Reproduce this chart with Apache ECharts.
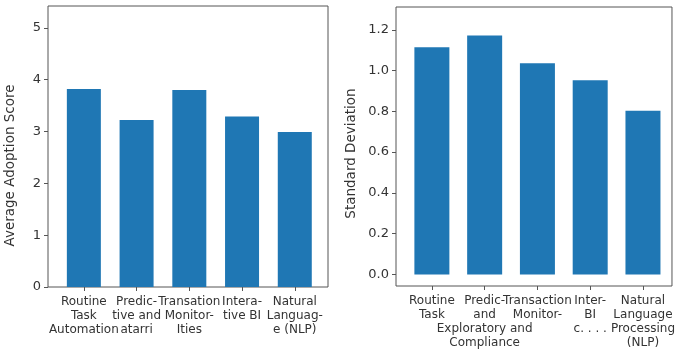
<!DOCTYPE html>
<html>
<head>
<meta charset="utf-8">
<script src="https://cdn.jsdelivr.net/npm/echarts@6/dist/echarts.min.js"></script>
<style>
  html, body { margin: 0; padding: 0; background: #fff; }
  #chart { width: 678px; height: 350px; }
</style>
</head>
<body>
<div id="chart"></div>
<script>
// left panel: mean adoption score per category
var leftCats = ['Routine\nTask\nAutomation', 'Predic-\ntive and\natarri', 'Transation\nMonitor-\nIties', 'Intera-\ntive BI', 'Natural\nLanguag-\ne (NLP)'];
var leftVals = [3.82, 3.22, 3.80, 3.29, 2.99];
var leftTicks = [0, 1, 2, 3, 4, 5];

// right panel: standard deviation per category
var rightCats = ['Routine\nTask', 'Predic-\nand\nExploratory and\nCompliance', 'Transaction\nMonitor-', 'Inter-\nBI\nc. . . .', 'Natural\nLanguage\nProcessing\n(NLP)'];
var rightVals = [1.115, 1.172, 1.036, 0.953, 0.803];
var rightTicks = [0, 0.2, 0.4, 0.6, 0.8, 1.0, 1.2];

var FONT = 'DejaVu Sans';
var TXT = '#333';
var LINE = '#555';
var BAR = '#1f77b4';
var idx = [0, 1, 2, 3, 4];

// labels touch each other like in the original, so even and odd
// categories go on two stacked axes to stop echarts hiding any of them
function xAxisFor(cats, gridIndex, maxV, which, withTicks) {
  return {
    type: 'value', gridIndex: gridIndex, min: -0.68, max: maxV, position: 'bottom',
    splitLine: { show: false },
    axisLine: { show: false, onZero: false },
    axisTick: { show: withTicks, length: 4, lineStyle: { color: LINE }, customValues: idx },
    axisLabel: {
      customValues: idx.filter(function (i) { return i % 2 === which; }),
      color: TXT, fontFamily: FONT, fontSize: 12,
      lineHeight: 14, margin: 8, align: 'center',
      formatter: function (v) { return cats[Math.round(v)]; }
    }
  };
}

function yAxisFor(name, gridIndex, minV, maxV, ticks, gap, shift, digits) {
  return {
    type: 'value', gridIndex: gridIndex, min: minV, max: maxV,
    name: name, nameLocation: 'middle', nameGap: gap, nameRotate: 90,
    nameTextStyle: { color: TXT, fontFamily: FONT, fontSize: 13.5, padding: [0, shift, 0, 0] },
    splitLine: { show: false },
    axisLine: { show: false, onZero: false },
    axisTick: { show: true, length: 4, lineStyle: { color: LINE }, customValues: ticks },
    axisLabel: {
      customValues: ticks, color: TXT, fontFamily: FONT, fontSize: 13, margin: 7,
      formatter: function (v) { return v.toFixed(digits); }
    }
  };
}

var chart = echarts.init(document.getElementById('chart'), null, { renderer: 'canvas' });
chart.setOption({
  backgroundColor: '#fff',
  animation: false,
  grid: [
    { left: 48, right: 350, top: 6, bottom: 63, show: true, borderColor: LINE, borderWidth: 1, containLabel: false },
    { left: 396, right: 1, top: 7, bottom: 63, show: true, borderColor: LINE, borderWidth: 1, containLabel: false }
  ],
  xAxis: [
    xAxisFor(leftCats, 0, 4.63, 0, true),
    xAxisFor(leftCats, 0, 4.63, 1, false),
    xAxisFor(rightCats, 1, 4.55, 0, true),
    xAxisFor(rightCats, 1, 4.55, 1, false)
  ],
  yAxis: [
    yAxisFor('Average Adoption Score', 0, 0, 5.42, leftTicks, 31, 38, 0),
    yAxisFor('Standard Deviation', 1, -0.057, 1.312, rightTicks, 38, 14, 1)
  ],
  series: [
    { type: 'bar', xAxisIndex: 0, yAxisIndex: 0, barWidth: 34, itemStyle: { color: BAR },
      data: leftVals.map(function (v, i) { return [i, v]; }) },
    { type: 'bar', xAxisIndex: 2, yAxisIndex: 1, barWidth: 35, itemStyle: { color: BAR },
      data: rightVals.map(function (v, i) { return [i, v]; }) }
  ]
});
</script>
</body>
</html>
